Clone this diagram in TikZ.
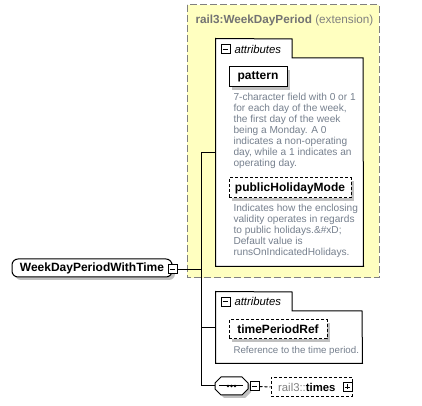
\documentclass[tikz,border=0pt]{standalone}
\usepackage{fontspec}
\setmainfont{Liberation Sans}
\usetikzlibrary{positioning,shapes.misc,shadows}

\definecolor{extfill}{RGB}{255,255,192}
\definecolor{extline}{RGB}{128,128,128}
\definecolor{desctext}{RGB}{118,128,142}
\definecolor{shadowgray}{RGB}{192,192,192}

\tikzset{
  shade3/.style={drop shadow={shadow xshift=2.25pt, shadow yshift=-2.25pt, fill=shadowgray, opacity=1}},
  elem/.style={draw, fill=white, inner sep=0pt, font=\fontsize{9}{9}\selectfont\bfseries, shade3},
  optelem/.style={elem, dashed, dash pattern=on 2.25pt off 1.5pt},
  desc/.style={anchor=north west, inner sep=0pt, align=left, text=desctext,
    font=\fontsize{7.6}{8.25}\selectfont},
  attrbox/.style={inner sep=0pt},
  toggle/.style={draw, fill=white, minimum size=6.75pt, inner sep=0pt},
}

\begin{document}
\begin{tikzpicture}[x=0.75pt, y=-0.75pt, line width=0.75pt]
  \useasboundingbox (0,0) rectangle (422,406);

  % extension frame
  \draw[fill=extfill, draw=extline, dash pattern=on 5.25pt off 2.25pt] (187,5) rectangle (379,278);
  \node[anchor=west, inner sep=0pt, text=extline, font=\fontsize{8.8}{8.8}\selectfont] (exttitle) at (195,20)
    {\textcolor{black!55}{\textbf{rail3:WeekDayPeriod}} (extension)};

  % first attribute group
  \node[attrbox, minimum width=110.25pt, minimum height=170.25pt] (attrA) at (289.5,152.5) {};
  \draw[fill=white] (attrA.north west) -- (292,39) -- (292,58) -- (363,58) -- (attrA.south east) -- (attrA.south west) -- cycle;
  \node[toggle] (attrAmin) at (225.5,49.5) {};
  \draw (attrAmin.west) ++(1.5pt,0) -- ++(3.75pt,0);
  \node[anchor=west, inner sep=0pt, font=\fontsize{8.5}{8.5}\selectfont\itshape] (attrAlbl) at (234,49) {attributes};

  \node[elem, minimum width=43.5pt, minimum height=15pt] (pattern) at (258,77) {pattern};
  \node[desc] (patterndesc) at (233,93) {7-character field with 0 or 1\\for each day of the week,\\the first day of the week\\being a Monday. A 0\\indicates a non-operating\\day, while a 1 indicates an\\operating day.};

  \node[optelem, minimum width=91.5pt, minimum height=15pt] (holiday) at (290,188) {publicHolidayMode};
  \node[desc] (holidaydesc) at (233,204) {Indicates how the enclosing\\validity operates in regards\\to public holidays.\&\#xD;\\Default value is\\runsOnIndicatedHolidays.};

  % second attribute group
  \node[attrbox, minimum width=109.5pt, minimum height=53.25pt] (attrB) at (289,327.5) {};
  \draw[fill=white] (attrB.north west) -- (292,292) -- (292,311) -- (362,311) -- (attrB.south east) -- (attrB.south west) -- cycle;
  \node[toggle] (attrBmin) at (225.5,302) {};
  \draw (attrBmin.west) ++(1.5pt,0) -- ++(3.75pt,0);
  \node[anchor=west, inner sep=0pt, font=\fontsize{8.5}{8.5}\selectfont\itshape] (attrBlbl) at (234,301.5) {attributes};

  \node[optelem, minimum width=73.5pt, minimum height=14.25pt] (timeref) at (278,329.5) {timePeriodRef};
  \node[desc, font=\fontsize{7.3}{8.25}\selectfont] (timerefdesc) at (233,346) {Reference to the time period.};

  % main element
  \node[elem, rounded corners=4.5pt, minimum width=120pt, minimum height=13.5pt] (main) at (92,268) {WeekDayPeriodWithTime};
  \node[toggle] (mainmin) at (172.5,269.5) {};
  \draw (mainmin.west) ++(1.5pt,0) -- ++(3.75pt,0);

  % sequence
  \draw[fill=white, shade3] (215,383) -- (221,377) -- (242,377) -- (248,383) -- (248,389) -- (242,395)
    -- (221,395) -- (215,389) -- cycle;
  \node[inner sep=0pt, minimum width=24.75pt, minimum height=13.5pt] (seq) at (231.5,386) {};
  \draw (seq.west) ++(3.5pt,0) -- ++(17.75pt,0);
  \foreach \i in {-1,0,1}
    \fill (seq.center) ++(\i*2.6pt,0) circle (1pt);
  \node[toggle] (seqmin) at (254.5,386.5) {};
  \draw (seqmin.west) ++(1.5pt,0) -- ++(3.75pt,0);

  \node[draw, dashed, dash pattern=on 2.25pt off 1.5pt, inner sep=0pt, minimum width=60.75pt, minimum height=14.25pt,
    font=\fontsize{8.5}{8.5}\selectfont] (times) at (311.5,387) {\hspace*{-7pt}\textcolor{extline}{rail3::}\textbf{times}};
  \node[toggle] (timesplus) at (347.5,387.5) {};
  \draw (timesplus.west) ++(1.5pt,0) -- ++(3.75pt,0);
  \draw (timesplus.north) ++(0,-1.5pt) -- ++(0,-3.75pt);

  % connectors
  \draw (mainmin.east) -- (201,269.5) coordinate (bus);
  \draw (bus |- attrA.west) -- (bus |- seq.west);
  \draw (bus |- attrA.west) -- (attrA.west);
  \draw (bus |- attrB.west) -- (attrB.west);
  \draw (bus |- seq.west) -- (seq.west);
  \draw[dashed, dash pattern=on 2.25pt off 1.5pt] (seqmin.east) -- (times.west);
\end{tikzpicture}
\end{document}
